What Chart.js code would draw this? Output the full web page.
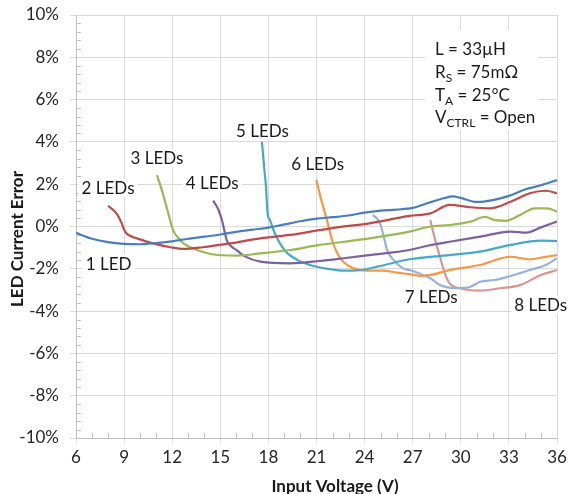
<!DOCTYPE html>
<html><head><meta charset="utf-8">
<script src="https://cdn.jsdelivr.net/npm/chart.js@4.4.0/dist/chart.umd.min.js"></script>
<style>html,body{margin:0;padding:0;background:#fff;}</style>
</head><body>
<canvas id="c" width="568" height="494"></canvas>
<script>
// ---- data (Input Voltage V, LED Current Error %) ----
const led1V = [6,7,8,9,10,11,12,13,14,15,16,17,18,19,20,21,22,23,24,25,26,27,28,29,29.5,30,31,32,33,34,35,36];
const led1E = [-0.3,-0.58,-0.74,-0.82,-0.84,-0.78,-0.7,-0.58,-0.48,-0.38,-0.25,-0.15,-0.05,0.1,0.25,0.37,0.44,0.52,0.66,0.75,0.8,0.88,1.12,1.35,1.42,1.35,1.16,1.25,1.45,1.75,1.95,2.2];
const led2V = [8,8.3,8.6,8.85,9.06,9.4,9.8,10.8,11.9,12.7,13.9,15.6,17.5,19.35,21.2,22.5,24.3,26.8,28.1,29.3,30.6,31.8,33.1,34.3,35.3,36];
const led2E = [0.97,0.8,0.54,0.15,-0.24,-0.45,-0.56,-0.8,-0.98,-1.06,-0.98,-0.8,-0.56,-0.4,-0.17,-0.02,0.15,0.5,0.62,1.02,0.91,0.86,1.17,1.57,1.69,1.57];
const led3V = [11.05,11.4,11.7,12.05,12.4,12.7,13.55,14.4,16.0,17.5,19.35,21.2,22.7,24.3,26.8,28.1,29.3,30.6,31.5,32.1,32.8,33.7,34.6,35.4,36];
const led3E = [2.43,1.6,0.78,-0.17,-0.55,-0.8,-1.11,-1.3,-1.38,-1.27,-1.11,-0.87,-0.72,-0.56,-0.24,0,0.07,0.23,0.46,0.31,0.27,0.54,0.86,0.86,0.7];
const led4V = [14.55,14.85,15.1,15.4,15.7,16.0,16.5,17.5,19.35,21.2,22.7,24.3,26.8,28,29.3,31.2,33.1,34.1,35,36];
const led4E = [1.22,0.85,0.31,-0.64,-0.95,-1.11,-1.4,-1.66,-1.74,-1.63,-1.5,-1.35,-1.11,-0.9,-0.72,-0.48,-0.24,-0.29,-0.04,0.23];
const led5V = [17.6,17.75,17.85,17.95,18.1,18.4,19.0,19.8,20.6,21.7,22.9,23.7,24.8,26.8,29.3,31.2,33.1,35,36];
const led5E = [4.0,2.67,1.88,0.62,0.3,-0.32,-1.11,-1.58,-1.82,-2.0,-2.09,-2.06,-1.9,-1.55,-1.35,-1.19,-0.87,-0.67,-0.69];
const led6V = [21.0,21.15,21.3,21.65,21.97,22.3,22.65,23.3,24.15,25.15,26.0,26.8,27.5,28.1,29.3,31.2,33.1,34.3,35.2,36];
const led6E = [2.2,1.7,1.25,0.31,-0.64,-1.27,-1.66,-1.98,-2.09,-2.09,-2.18,-2.25,-2.34,-2.29,-2.06,-1.82,-1.43,-1.55,-1.45,-1.35];
const led7V = [24.5,24.8,25.0,25.2,25.4,25.8,26.4,26.8,27.5,28.1,28.7,29.65,30.6,31.2,32.1,33.1,34.3,35.3,36];
const led7E = [0.54,0.35,0.07,-0.5,-1.11,-1.58,-1.98,-2.06,-2.25,-2.45,-2.77,-2.92,-2.85,-2.61,-2.53,-2.34,-2.06,-1.82,-1.5];
const led8V = [28.1,28.4,28.7,29.0,29.3,29.95,31.2,32.45,33.7,35,36];
const led8E = [0.31,-0.64,-1.43,-2.21,-2.69,-2.92,-3.03,-2.92,-2.77,-2.29,-2.06];

const seriesNames = ['1 LED','2 LEDs','3 LEDs','4 LEDs','5 LEDs','6 LEDs','7 LEDs','8 LEDs'];
const seriesV = [led1V,led2V,led3V,led4V,led5V,led6V,led7V,led8V];
const seriesE = [led1E,led2E,led3E,led4E,led5E,led6E,led7E,led8E];
const seriesColors = ['#4A7EBB','#BE4B48','#98B954','#7D60A0','#46AAC5','#F79646','#95B3D7','#DA9694'];

// in-plot series labels (text, anchor V, anchor %)
const labelText = ['1 LED','2 LEDs','3 LEDs','4 LEDs','5 LEDs','6 LEDs','7 LEDs','8 LEDs'];
const labelV = [8.03,8.0,11.05,14.5,17.63,21.07,28.15,34.98];
const labelE = [-1.73,1.82,3.24,2.06,4.56,3.0,-3.33,-3.71];

const xTickValues = [6,9,12,15,18,21,24,27,30,33,36];
const yTickValues = [-10,-8,-6,-4,-2,0,2,4,6,8,10];
const xTitle = 'Input Voltage (V)';
const yTitle = 'LED Current Error';
const conditions = [
  [['L = 33µH',0]],
  [['R',0],['S',1],[' = 75mΩ',0]],
  [['T',0],['A',1],[' = 25°C',0]],
  [['V',0],['CTRL',1],[' = Open',0]]
];

const FONT = 'Lato, "Open Sans", sans-serif';
const datasets = seriesNames.map((n,i)=>({
  label:n,
  data: seriesV[i].map((v,k)=>({x:v,y:seriesE[i][k]})),
  borderColor: seriesColors[i],
  backgroundColor: seriesColors[i],
  borderWidth: 2.2,
  pointRadius: 0,
  fill:false,
  cubicInterpolationMode:'monotone'
}));

const deco = {
  id:'deco',
  beforeDatasetsDraw(chart){
    const {ctx, chartArea:a, scales:{x,y}} = chart;
    ctx.save();
    // minor tick marks
    ctx.strokeStyle = '#bfbfbf'; ctx.lineWidth = 1;
    ctx.beginPath();
    for (let k=0;k<=50;k++){ const v=-10+k*0.4; if (k%5===0) continue;
      const p=Math.round(y.getPixelForValue(v))+0.5; ctx.moveTo(a.left,p); ctx.lineTo(a.left+5,p); }
    for (let v=7; v<36; v++){ if ((v-6)%3===0) continue;
      const p=Math.round(x.getPixelForValue(v))+0.5; ctx.moveTo(p,a.bottom); ctx.lineTo(p,a.bottom-5); }
    ctx.stroke();
    // series labels
    ctx.font = '17px ' + FONT;
    ctx.textAlign='center'; ctx.textBaseline='middle';
    labelText.forEach((t,i)=>{
      const px=x.getPixelForValue(labelV[i]), py=y.getPixelForValue(labelE[i]);
      const w=ctx.measureText(t).width;
      ctx.fillStyle='#fff'; ctx.fillRect(px-w/2-3, py-9, w+6, 18);
      ctx.fillStyle='#1a1a1a'; ctx.fillText(t,px,py+1);
    });
    // conditions box
    ctx.fillStyle='#fff'; ctx.fillRect(425,30,113,100);
    ctx.textAlign='left'; ctx.textBaseline='alphabetic';
    const base=[55,77.5,100.5,123];
    conditions.forEach((segs,li)=>{
      let cx=435;
      segs.forEach(([t,sub])=>{
        ctx.font = (sub?'12px ':'17px ') + FONT;
        ctx.fillStyle='#1a1a1a';
        ctx.fillText(t,cx,base[li]+(sub?4:0));
        cx+=ctx.measureText(t).width;
      });
    });
    ctx.restore();
  },
  afterDraw(chart){
    const {ctx} = chart;
    ctx.save();
    ctx.fillStyle='#1a1a1a';
    ctx.font='bold 17px ' + FONT;
    ctx.textAlign='center'; ctx.textBaseline='alphabetic';
    ctx.fillText(xTitle, 335, 492);
    ctx.translate(23,239); ctx.rotate(-Math.PI/2);
    ctx.fillText(yTitle,0,0);
    ctx.restore();
  }
};

new Chart(document.getElementById('c'),{
  type:'line',
  data:{datasets},
  options:{
    responsive:false, animation:false, devicePixelRatio:1,
    layout:{padding:{top:15,right:11,left:0,bottom:0}},
    plugins:{legend:{display:false},tooltip:{enabled:false}},
    scales:{
      x:{type:'linear',min:6,max:36,
        afterBuildTicks(s){ s.ticks = xTickValues.map(v=>({value:v})); },
        afterFit(s){ s.height=56; s.paddingLeft=0; s.paddingRight=0; },
        grid:{color:'#d9d9d9',tickLength:5,drawTicks:true},
        border:{color:'#bfbfbf'},
        ticks:{color:'#262626',font:{family:FONT,size:17},padding:4,maxRotation:0,autoSkip:false}
      },
      y:{type:'linear',min:-10,max:10,
        afterBuildTicks(s){ s.ticks = yTickValues.map(v=>({value:v})); },
        afterFit(s){ s.width=76; s.paddingTop=0; s.paddingBottom=0; },
        grid:{color:'#d9d9d9',tickLength:6,drawTicks:true},
        border:{color:'#bfbfbf'},
        ticks:{color:'#262626',font:{family:FONT,size:17},padding:11,callback:v=>v+'%',autoSkip:false}
      }
    }
  },
  plugins:[deco]
});
</script>
</body></html>
